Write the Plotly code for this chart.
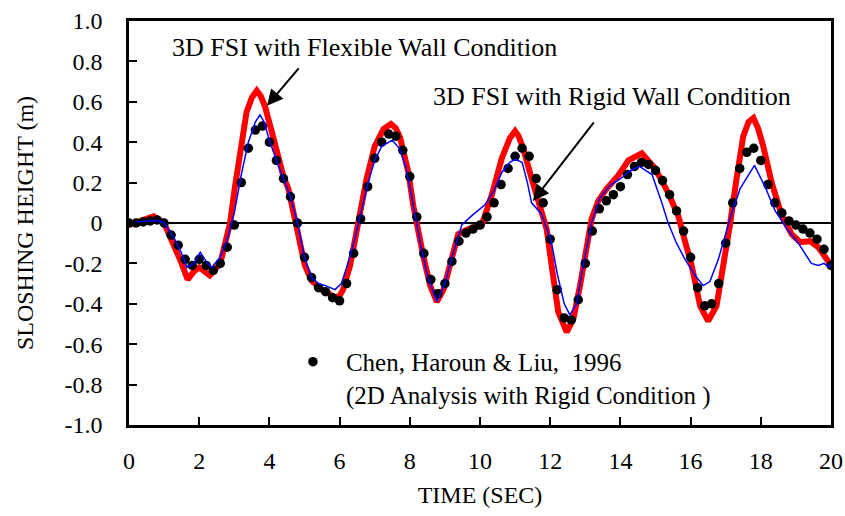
import plotly.graph_objects as go

# ---------------- data ----------------
# Chen, Haroun & Liu (1996) - black dots every 0.2 s
chen_t = [round(0.2 * i, 1) for i in range(101)]
chen_v = [0.0, 0.0, 0.005, 0.01, 0.015, 0.0, -0.06, -0.11, -0.18, -0.21,
          -0.18, -0.21, -0.235, -0.2, -0.12, -0.01, 0.2, 0.37, 0.46, 0.48,
          0.40, 0.31, 0.22, 0.13, 0.0, -0.17, -0.27, -0.32, -0.34, -0.37,
          -0.385, -0.30, -0.15, 0.02, 0.18, 0.32, 0.40, 0.44, 0.43, 0.36,
          0.23, 0.03, -0.15, -0.28, -0.35, -0.30, -0.19, -0.09, -0.05, -0.03,
          -0.01, 0.03, 0.10, 0.19, 0.27, 0.33, 0.37, 0.33, 0.22, 0.10,
          -0.08, -0.33, -0.47, -0.48, -0.38, -0.20, -0.04, 0.07, 0.11, 0.14,
          0.18, 0.24, 0.28, 0.30, 0.29, 0.26, 0.21, 0.14, 0.06, -0.04,
          -0.17, -0.32, -0.41, -0.40, -0.30, -0.10, 0.10, 0.27, 0.35, 0.37,
          0.31, 0.19, 0.10, 0.05, 0.01, -0.01, -0.03, -0.05, -0.08, -0.13,
          -0.21]

# 3D FSI with flexible wall condition (red)
flex_t = [0, 0.3, 0.7, 1.0, 1.3, 1.5, 1.67, 1.85, 2.0, 2.15, 2.3, 2.6, 2.75, 2.88,
          3.02, 3.16, 3.35, 3.5, 3.64, 3.75, 3.87, 4.1, 4.4, 4.54, 4.73, 4.87,
          5.01, 5.2, 5.49, 5.7, 5.87, 6.0, 6.1, 6.3, 6.44, 6.58, 6.77, 7.0, 7.25,
          7.46, 7.6, 7.72, 7.86, 7.96, 8.1, 8.2, 8.38, 8.58, 8.77, 8.96, 9.15,
          9.38, 9.67, 10.05, 10.33, 10.62, 10.85, 11.0, 11.1, 11.23, 11.47, 11.71,
          11.9, 12.04, 12.23, 12.47, 12.66, 12.85, 13.04, 13.18, 13.37, 13.61,
          13.94, 14.23, 14.61, 14.99, 15.36, 15.65, 15.84, 16.03, 16.27, 16.5,
          16.74, 16.93, 17.12, 17.31, 17.5, 17.65, 17.79, 17.92, 18.07, 18.31,
          18.6, 18.88, 19.12, 19.4, 19.64, 19.94, 20.0]
flex_v = [-0.01, 0.01, 0.033, 0.0, -0.11, -0.2, -0.28, -0.24, -0.22, -0.24, -0.26,
          -0.2, -0.1, 0.0, 0.18, 0.35, 0.55, 0.62, 0.655, 0.63, 0.58, 0.43, 0.23,
          0.17, 0.02, -0.11, -0.21, -0.285, -0.33, -0.35, -0.37, -0.36, -0.33,
          -0.21, -0.08, 0.05, 0.22, 0.38, 0.465, 0.49, 0.47, 0.425, 0.33, 0.25,
          0.085, -0.01, -0.16, -0.31, -0.39, -0.33, -0.195, -0.055, -0.03, -0.01,
          0.135, 0.32, 0.42, 0.455, 0.43, 0.37, 0.22, 0.085, -0.03, -0.21, -0.44,
          -0.54, -0.475, -0.31, -0.11, 0.02, 0.11, 0.17, 0.235, 0.31, 0.345,
          0.27, 0.15, 0.035, -0.09, -0.21, -0.41, -0.485, -0.41, -0.23, -0.01,
          0.22, 0.43, 0.50, 0.52, 0.47, 0.38, 0.2, 0.035, -0.055, -0.095, -0.09,
          -0.12, -0.195, -0.2]

# 3D FSI with rigid wall condition (blue)
rigid_t = [0, 0.5, 0.8, 1.0, 1.3, 1.5, 1.65, 1.85, 2.03, 2.2, 2.35, 2.6, 2.8, 3.0,
           3.2, 3.4, 3.6, 3.73, 3.85, 4.0, 4.2, 4.4, 4.6, 4.8, 5.0, 5.2, 5.4, 5.6,
           5.87, 6.05, 6.2, 6.4, 6.6, 6.8, 7.0, 7.2, 7.5, 7.7, 7.9, 8.1, 8.3, 8.5,
           8.77, 9.0, 9.2, 9.48, 9.76, 10.14, 10.4, 10.62, 10.85, 11.0, 11.2,
           11.35, 11.47, 11.75, 12.03, 12.2, 12.4, 12.56, 12.75, 12.95, 13.18,
           13.4, 13.7, 14.0, 14.3, 14.54, 14.9, 15.18, 15.36, 15.6, 15.84, 16.13,
           16.36, 16.55, 16.79, 17.12, 17.41, 17.82, 18.12, 18.41, 18.79, 19.07,
           19.44, 19.64, 19.8, 19.94, 20.0]
rigid_v = [0.0, 0.01, 0.012, 0.0, -0.08, -0.15, -0.22, -0.2, -0.145, -0.19, -0.22,
           -0.17, -0.08, 0.05, 0.24, 0.40, 0.50, 0.535, 0.5, 0.41, 0.31, 0.22,
           0.13, 0.0, -0.17, -0.27, -0.3, -0.31, -0.33, -0.30, -0.22, -0.1, 0.04,
           0.19, 0.31, 0.38, 0.41, 0.37, 0.27, 0.08, -0.1, -0.26, -0.39, -0.3,
           -0.17, -0.01, 0.035, 0.09, 0.16, 0.25, 0.30, 0.315, 0.3, 0.2, 0.10,
           0.045, -0.09, -0.25, -0.40, -0.455, -0.40, -0.2, 0.0, 0.12, 0.185,
           0.22, 0.26, 0.28, 0.24, 0.1, 0.0, -0.1, -0.18, -0.26, -0.31, -0.29,
           -0.18, 0.02, 0.17, 0.285, 0.18, 0.06, -0.04, -0.1, -0.2, -0.21, -0.2,
           -0.22, -0.2]

x_ticks = [0, 2, 4, 6, 8, 10, 12, 14, 16, 18, 20]
y_ticks = [1.0, 0.8, 0.6, 0.4, 0.2, 0, -0.2, -0.4, -0.6, -0.8, -1.0]
y_tick_text = ["1.0", "0.8", "0.6", "0.4", "0.2", "0", "-0.2", "-0.4", "-0.6", "-0.8", "-1.0"]

FONT = "Liberation Serif"

fig = go.Figure()
fig.add_trace(go.Scatter(x=flex_t, y=flex_v, mode="lines",
                         line=dict(color="#ff0000", width=6),
                         name="3D FSI with Flexible Wall Condition", showlegend=False))
fig.add_trace(go.Scatter(x=chen_t, y=chen_v, mode="markers",
                         marker=dict(color="black", size=9.5, symbol="circle"),
                         name="Chen, Haroun & Liu,  1996<br>(2D Analysis with Rigid Condition )",
                         showlegend=True))
fig.add_trace(go.Scatter(x=rigid_t, y=rigid_v, mode="lines",
                         line=dict(color="#0000ff", width=1.5),
                         name="3D FSI with Rigid Wall Condition", showlegend=False))

fig.update_layout(
    width=845, height=516,
    margin=dict(l=129, r=14, t=21, b=91),
    paper_bgcolor="white", plot_bgcolor="white",
    font=dict(family=FONT, size=24, color="black"),
    legend=dict(x=0.215, y=0.213, xanchor="left", yanchor="top",
                bgcolor="rgba(0,0,0,0)", font=dict(size=25), valign="top",
                itemwidth=56, tracegroupgap=0),
    xaxis=dict(range=[0, 20], tickvals=x_ticks, ticks="inside", ticklen=8, tickwidth=2,
               tickcolor="black", showline=True, linecolor="black", linewidth=2.5,
               mirror=True, showgrid=False, zeroline=False, automargin=False,
               ticklabelstandoff=12,
               title=dict(text="TIME (SEC)", standoff=14, font=dict(size=24))),
    yaxis=dict(range=[-1.0, 1.0], tickvals=y_ticks, ticktext=y_tick_text,
               ticks="inside", ticklen=8, tickwidth=2, tickcolor="black",
               showline=True, linecolor="black", linewidth=2.5, mirror=True,
               showgrid=False, zeroline=True, zerolinecolor="black", zerolinewidth=2,
               automargin=False, ticklabelstandoff=19,
               title=dict(text="SLOSHING HEIGHT (m)", standoff=25, font=dict(size=24))),
    annotations=[
        dict(x=3.93, y=0.58, xref="x", yref="y", text="", showarrow=True,
             ax=33, ay=-39, arrowhead=2, arrowsize=1.6, arrowwidth=2, arrowcolor="black"),
        dict(x=6.72, y=0.87, xref="x", yref="y", text="3D FSI with Flexible Wall Condition",
             showarrow=False, font=dict(size=26)),
        dict(x=11.51, y=0.109, xref="x", yref="y", text="", showarrow=True,
             ax=62, ay=-80, arrowhead=2, arrowsize=1.6, arrowwidth=2, arrowcolor="black"),
        dict(x=13.76, y=0.624, xref="x", yref="y", text="3D FSI with Rigid Wall Condition",
             showarrow=False, font=dict(size=26)),
    ],
)

fig.write_html("out.html")
